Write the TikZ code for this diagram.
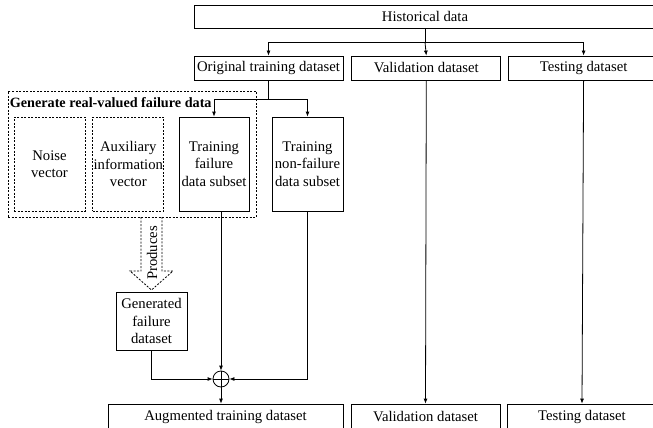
\documentclass[tikz,border=0pt]{standalone}
\usepackage{fontspec}
\setmainfont{Liberation Serif}
\usetikzlibrary{positioning,arrows.meta,calc}

\begin{document}
\begin{tikzpicture}[x=1pt,y=-1pt,
    box/.style={draw,line width=0.8pt,inner sep=0,align=center,
        font=\fontsize{14.7}{17.5}\selectfont},
    dbox/.style={box,dash pattern=on 2pt off 1.5pt},
    wide/.style={minimum width=149pt,minimum height=24pt},
    tall/.style={minimum width=71pt,minimum height=94pt},
    arr/.style={-{Latex[length=5pt,width=4pt]},line width=0.8pt},
    conn/.style={line width=0.8pt}
]

\clip (0,0) rectangle (653,428);

% top row
\node[box,minimum width=462pt,minimum height=23pt] (hist) at (425,16.5) {Historical data};
\node[box,wide] (orig) at (268.5,68) {Original training dataset};
\node[box,wide,right=8pt of orig] (val) {Validation dataset};
\node[box,wide,minimum width=150pt,right=7pt of val] (test) {Testing dataset};

% generator group
\node[dbox,minimum width=248pt,minimum height=126pt] (gen) at (132,154) {};
\node[anchor=west,inner sep=0,font=\fontsize{14.2}{17}\selectfont\bfseries]
    (gentitle) at ($(gen.north west)+(2,12)$) {Generate real-valued failure data};
\node[dbox,tall] (noise) at (49.5,164) {Noise\\vector};
\node[dbox,tall,right=7pt of noise] (aux) {Auxiliary\\information\\vector};
\node[box,tall,minimum width=70pt] (tfail) at (214,164) {Training\\failure\\data subset};
\node[box,tall] (tnon) at (307.5,164) {Training\\non-failure\\data subset};

\node[box,minimum width=71pt,minimum height=58pt] (genfail) at (151.5,321) {Generated\\failure\\dataset};
\node[draw,circle,line width=0.8pt,minimum size=16pt,inner sep=0] (oplus) at (221,379) {};
\draw[conn] (oplus.north) -- (oplus.south);
\draw[conn] (oplus.west) -- (oplus.east);

% bottom row
\node[box,minimum width=235pt,minimum height=26pt] (aug) at (225.5,417) {Augmented training dataset};
\node[box,wide,minimum height=26pt] (val2) at (425.5,417) {Validation dataset};
\node[box,wide,minimum width=150pt,minimum height=26pt] (test2) at (582,417) {Testing dataset};

% produces arrow
\draw[conn,dash pattern=on 2pt off 1.5pt]
    (141,217) -- (141,271) -- (130,271) -- (151.5,290) -- (173,271) -- (162,271) -- (162,217);
\node[rotate=90,inner sep=0,font=\fontsize{14.7}{17.5}\selectfont] (prod) at (152,253) {Produces};

% connectors
\coordinate (hsplit) at (hist.south |- 0,42);
\draw[conn] (hist.south) -- (hsplit);
\draw[arr] (hsplit) -| (orig.north);
\draw[arr] (hsplit) -| (test.north);
\draw[arr] (hsplit) -- (val.north);

\coordinate (osplit) at (orig.south |- 0,99);
\draw[conn] (orig.south) -- (osplit);
\draw[arr] (osplit) -| (tfail.north);
\draw[arr] (osplit) -| (tnon.north);

\draw[arr] (tfail.south -| oplus) -- (oplus.north);
\draw[arr] (tnon.south) |- (oplus.east);
\draw[arr] (genfail.south) |- (oplus.west);
\draw[arr] (oplus.south) -- (oplus.south |- aug.north);

\draw[arr] (val.south) -- (val2.north);
\draw[arr] (test.south) -- (test2.north);

\end{tikzpicture}
\end{document}
